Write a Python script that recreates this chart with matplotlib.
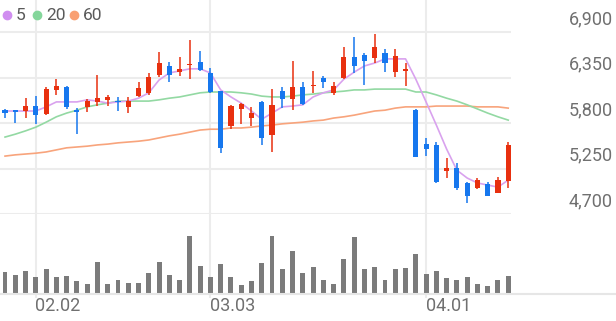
import matplotlib
matplotlib.use("Agg")
import numpy as np
from matplotlib import pyplot as plt
from matplotlib.transforms import offset_copy, blended_transform_factory
from matplotlib.lines import Line2D

plt.rcParams['font.family'] = ['Roboto', 'DejaVu Sans']

### data ###
opens = [5955, 5955, 5945, 6005, 5910, 6200, 6235, 5955, 5990, 6055,
         6080, 6065, 5995, 6125, 6165, 6380, 6490, 6415, 6500, 6540,
         6405, 6185, 5765, 5970, 5860, 6055, 5655, 6185, 6090, 6235,
         6245, 6345, 6165, 6345, 6600, 6620, 6585, 6645, 6415, 6430,
         5960, 5545, 5535, 5220, 5255, 5075, 5015, 5065, 4955, 5100]
highs = [5965, 5960, 6100, 6125, 6235, 6330, 6250, 5980, 6090, 6380,
         6140, 6115, 6115, 6295, 6405, 6660, 6540, 6600, 6800, 6670,
         6465, 6190, 6020, 6040, 5995, 6065, 6210, 6235, 6555, 6295,
         6430, 6370, 6295, 6720, 6840, 6645, 6875, 6695, 6695, 6525,
         5965, 5620, 5570, 5375, 5315, 5085, 5135, 5085, 5145, 5570]
lows = [5860, 5800, 5860, 5790, 5895, 6140, 5970, 5670, 5935, 6005,
        6005, 5945, 5920, 6115, 6140, 6355, 6295, 6370, 6330, 6430,
        6160, 5440, 5730, 5790, 5765, 5535, 5450, 5980, 5955, 6020,
        6160, 6220, 6140, 6330, 6405, 6260, 6525, 6415, 6355, 6250,
        5385, 5400, 5075, 5135, 4990, 4835, 5000, 4915, 4955, 5015]
closes = [5920, 5930, 6005, 5900, 6210, 6250, 5995, 5930, 6065, 6100,
          6115, 6050, 6065, 6225, 6355, 6525, 6380, 6450, 6515, 6440,
          6175, 5500, 6005, 6030, 5920, 5620, 6020, 6090, 6235, 6030,
          6255, 6295, 6250, 6600, 6490, 6550, 6720, 6525, 6610, 6450,
          5390, 5485, 5090, 5255, 5015, 4920, 5110, 4920, 5110, 5535]
ma5 = [5945, 5945, 5945, 5945, 5995, 6055, 6055, 6055, 6080, 6065,
       6040, 6055, 6065, 6100, 6165, 6320, 6405, 6430, 6455, 6455,
       6405, 6200, 6115, 6040, 5945, 5845, 5920, 5995, 6005, 6020,
       6115, 6165, 6200, 6330, 6415, 6490, 6525, 6575, 6575, 6575,
       6330, 6055, 5775, 5485, 5230, 5135, 5075, 5050, 5025, 5110]
ma20 = [5630, 5665, 5705, 5750, 5810, 5875, 5920, 5955, 5995, 6020,
        6040, 6065, 6065, 6065, 6065, 6080, 6100, 6115, 6140, 6165,
        6175, 6175, 6175, 6165, 6150, 6125, 6115, 6115, 6125, 6140,
        6150, 6165, 6175, 6185, 6200, 6200, 6210, 6210, 6210, 6210,
        6175, 6175, 6140, 6100, 6065, 6020, 5970, 5920, 5875, 5835]
ma60 = [5400, 5415, 5425, 5435, 5450, 5475, 5500, 5510, 5520, 5535,
        5545, 5560, 5570, 5580, 5595, 5620, 5645, 5665, 5690, 5715,
        5725, 5725, 5740, 5740, 5750, 5765, 5775, 5790, 5800, 5810,
        5825, 5835, 5860, 5875, 5895, 5920, 5945, 5955, 5980, 5995,
        5995, 5995, 6005, 6005, 6005, 6005, 5995, 5995, 5995, 5980]
volume = [223, 190, 233, 173, 250, 173, 180, 130, 97, 323,
          100, 140, 113, 113, 213, 323, 190, 140, 583, 283,
          173, 297, 173, 90, 130, 307, 583, 247, 433, 213,
          273, 140, 97, 350, 567, 250, 270, 140, 247, 263,
          400, 197, 230, 163, 140, 173, 97, 80, 140, 180]
price_ticks = [6900, 6350, 5800, 5250, 4700]
date_idx = [3, 20, 41]
date_labels = ["02.02", "03.03", "04.01"]

RED = '#e8300f'
BLUE = '#1677ee'
GRID = '#ececec'


def main():
    fig = plt.figure(figsize=(6.16, 3.21), dpi=100)
    ax = fig.add_axes([0, 107 / 321, 511 / 616, 214 / 321])
    vax = fig.add_axes([0, 27 / 321, 511 / 616, 80 / 321])

    x = np.arange(len(closes))
    o = np.array(opens)
    c = np.array(closes)
    up = c >= o
    cols = np.where(up, RED, BLUE)

    # grid
    for t in price_ticks:
        ax.axhline(t, color=GRID, lw=1.5, zorder=0)
    for i in date_idx:
        ax.axvline(i, color=GRID, lw=1.5, zorder=0)
        vax.axvline(i, ymin=-0.04, ymax=1, color=GRID, lw=1.5, zorder=0, clip_on=False)

    # moving averages
    ax.plot(x, ma60, color='#f8a47c', lw=1.2, zorder=1)
    ax.plot(x, ma20, color='#93d9a3', lw=1.2, zorder=1)
    ax.plot(x, ma5, color='#d9a2ee', lw=1.2, zorder=1)

    # candles
    ax.vlines(x, lows, highs, colors=cols, lw=1.1, zorder=2)
    body = np.maximum(np.abs(c - o), 14)
    ax.bar(x, body, bottom=np.minimum(o, c), width=0.5, color=cols, zorder=3)

    ax.set_xlim(-0.49, 49.27)
    ax.set_ylim(4700, 7287)
    ax.axis('off')

    # volume
    vax.bar(x, volume, width=0.48, color='#7b7b7b')
    vax.set_xlim(-0.49, 49.27)
    vax.set_ylim(0, 800)
    vax.axis('off')
    fig.add_artist(Line2D([0, 1], [27 / 321, 27 / 321], color='#e6e6e6', lw=1.5))

    # price labels on the right
    tr = offset_copy(blended_transform_factory(fig.transFigure, ax.transData),
                     fig=fig, x=0, y=13, units='dots')
    for t in price_ticks:
        fig.text(0.995, t, f"{t:,}", transform=tr, ha='right', va='center',
                 fontsize=13, color='#707070')

    # date labels
    dtr = blended_transform_factory(vax.transData, vax.transAxes)
    for i, lab in zip(date_idx, date_labels):
        vax.text(i - 0.05, -0.15, lab, transform=dtr, ha='left', va='center',
                 fontsize=13, color='#707070', clip_on=False)

    # legend
    yl = 1 - 15 / 321
    for xp, col, lab in [(7, '#d08ef0', '5'), (37, '#84d69b', '20'), (74, '#f9a072', '60')]:
        fig.add_artist(Line2D([xp / 616], [yl], marker='o', markersize=6, color=col, lw=0))
        fig.text((xp + 9) / 616, yl, lab, ha='left', va='center', fontsize=12.5,
                 color='#5a5a5a')

    fig.savefig('out.png', dpi=100)


if __name__ == "__main__":
    main()
